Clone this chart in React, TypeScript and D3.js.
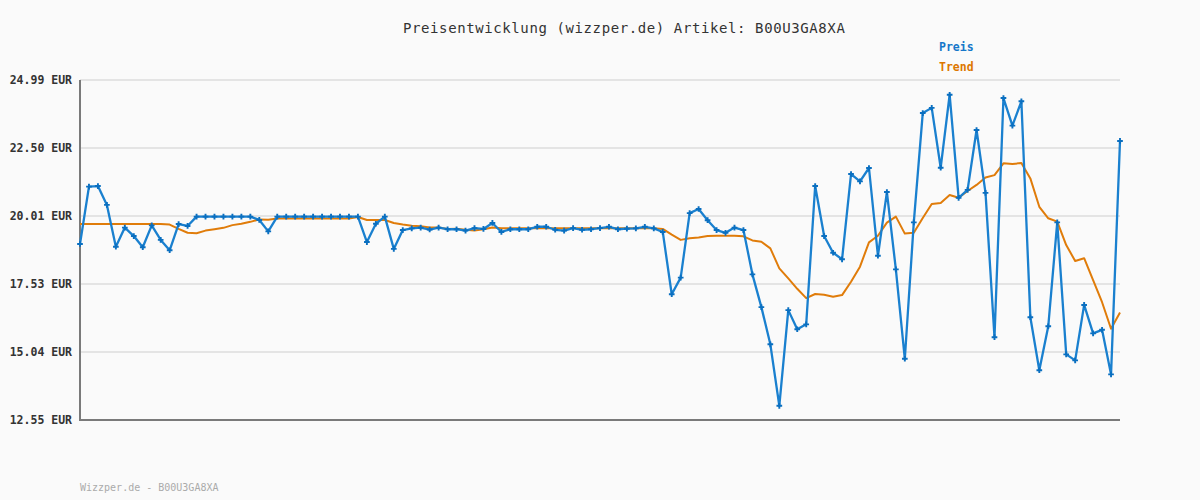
import React from "react";
import * as d3 from "d3";

const TITLE = "Preisentwicklung (wizzper.de) Artikel: B00U3GA8XA";
const FOOTER = "Wizzper.de - B00U3GA8XA";
const SERIES_NAMES = ["Preis", "Trend"];
const Y_TICKS = [12.55, 15.04, 17.53, 20.01, 22.5, 24.99];

const PRICE = [
  18.99, 21.09, 21.11, 20.42, 18.89, 19.59, 19.28, 18.87, 19.67, 19.14,
  18.76, 19.72, 19.65, 19.99, 19.99, 19.99, 19.99, 19.99, 19.99, 19.99,
  19.87, 19.45, 19.99, 19.99, 19.99, 19.99, 19.99, 19.99, 19.99, 19.99,
  19.99, 19.99, 19.06, 19.73, 19.99, 18.81, 19.5, 19.56, 19.59, 19.52,
  19.59, 19.53, 19.53, 19.48, 19.57, 19.54, 19.76, 19.43, 19.53, 19.53,
  19.53, 19.62, 19.62, 19.51, 19.48, 19.57, 19.51, 19.53, 19.57, 19.62,
  19.53, 19.55, 19.56, 19.62, 19.56, 19.43, 17.15, 17.76, 20.12, 20.27,
  19.86, 19.5, 19.4, 19.59, 19.5, 17.88, 16.68, 15.32, 13.07, 16.57,
  15.87, 16.05, 21.11, 19.28, 18.67, 18.43, 21.55, 21.28, 21.77, 18.56,
  20.89, 18.06, 14.79, 19.78, 23.78, 23.97, 21.78, 24.45, 20.68, 20.97,
  23.16, 20.86, 15.58, 24.33, 23.32, 24.21, 16.31, 14.37, 15.98, 19.78,
  14.95, 14.73, 16.76, 15.72, 15.85, 14.22, 22.76,
];

const TREND = [
  19.72, 19.72, 19.72, 19.72, 19.72, 19.72, 19.72, 19.72, 19.72, 19.72,
  19.7, 19.54, 19.4, 19.38, 19.48, 19.53, 19.58, 19.68, 19.73, 19.8,
  19.89, 19.88, 19.92, 19.92, 19.92, 19.92, 19.92, 19.92, 19.92, 19.92,
  19.92, 19.98, 19.87, 19.87, 19.87, 19.76, 19.7, 19.66, 19.64, 19.59,
  19.59, 19.54, 19.55, 19.51, 19.48, 19.53, 19.59, 19.57, 19.57, 19.57,
  19.57, 19.57, 19.57, 19.57, 19.57, 19.57, 19.57, 19.57, 19.57, 19.57,
  19.57, 19.57, 19.57, 19.57, 19.57, 19.54, 19.33, 19.14, 19.2, 19.23,
  19.28, 19.29, 19.29, 19.29, 19.27, 19.12, 19.07, 18.83, 18.1, 17.73,
  17.35, 17.01, 17.16, 17.13, 17.06, 17.12, 17.61, 18.16, 19.05, 19.29,
  19.77, 19.99, 19.37, 19.4, 19.94, 20.45, 20.49, 20.78, 20.68, 20.93,
  21.15, 21.42, 21.51, 21.94, 21.92, 21.95, 21.39, 20.35, 19.93, 19.81,
  18.95, 18.37, 18.47, 17.67, 16.86, 15.89, 16.48,
];

const W = 1200;
const H = 500;
const M = { left: 80, right: 1120, top: 80, bottom: 420 };
const BLUE = "#1a80cf";
const ORANGE = "#e07c0a";
const MONO = "'DejaVu Sans Mono', monospace";

export default function App() {
  const x = d3
    .scaleLinear()
    .domain([0, PRICE.length - 1])
    .range([M.left, M.right]);
  const y = d3
    .scaleLinear()
    .domain([Y_TICKS[0], Y_TICKS[Y_TICKS.length - 1]])
    .range([M.bottom, M.top]);

  const line = d3
    .line<number>()
    .x((_, i) => x(i))
    .y((d) => y(d));

  const cross = d3.symbol().type(d3.symbolCross).size(18)() as string;

  return (
    <svg
      width={W}
      height={H}
      style={{ position: "fixed", left: 0, top: 0, display: "block" }}
    >
      <rect x={0} y={0} width={W} height={H} fill="#fafafa" />
      <text
        x={403}
        y={33}
        fontFamily={MONO}
        fontSize={14}
        letterSpacing={0.6}
        fill="#333"
      >
        {TITLE}
      </text>
      <text
        x={939}
        y={51}
        fontFamily={MONO}
        fontSize={11.5}
        fontWeight="bold"
        fill="#1677c9"
      >
        {SERIES_NAMES[0]}
      </text>
      <text
        x={939}
        y={71}
        fontFamily={MONO}
        fontSize={11.5}
        fontWeight="bold"
        fill="#dd7700"
      >
        {SERIES_NAMES[1]}
      </text>

      {Y_TICKS.map((t) => (
        <g key={t}>
          <line
            x1={M.left}
            x2={M.right}
            y1={y(t)}
            y2={y(t)}
            stroke="#e4e4e4"
            strokeWidth={2}
          />
          <text
            x={72}
            y={y(t) + 4}
            textAnchor="end"
            fontFamily={MONO}
            fontSize={11.5}
            fontWeight="bold"
            fill="#333"
          >
            {t.toFixed(2) + " EUR"}
          </text>
        </g>
      ))}

      <line
        x1={M.left}
        x2={M.left}
        y1={M.top}
        y2={M.bottom + 1}
        stroke="#7a7a7a"
        strokeWidth={2}
      />
      <line
        x1={M.left}
        x2={M.right}
        y1={M.bottom}
        y2={M.bottom}
        stroke="#7a7a7a"
        strokeWidth={2}
      />

      <path
        d={line(TREND) as string}
        fill="none"
        stroke={ORANGE}
        strokeWidth={2}
        strokeLinejoin="round"
      />
      <path
        d={line(PRICE) as string}
        fill="none"
        stroke={BLUE}
        strokeWidth={2.3}
        strokeLinejoin="round"
      />
      {PRICE.map((v, i) => (
        <path
          key={i}
          d={cross}
          transform={`translate(${x(i)},${y(v)})`}
          fill="#0a6fc0"
        />
      ))}

      <text x={80} y={491} fontFamily={MONO} fontSize={10} fill="#aaaaaa">
        {FOOTER}
      </text>
    </svg>
  );
}
